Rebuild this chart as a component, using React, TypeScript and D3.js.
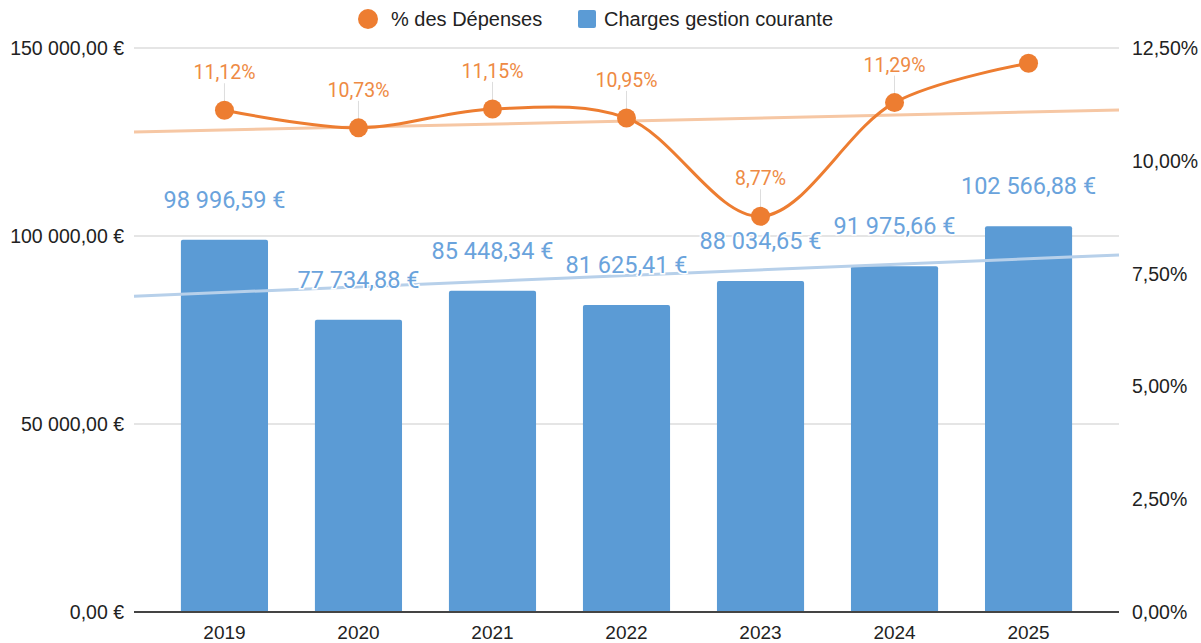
import React from "react"
import * as d3 from "d3"

const years = ["2019", "2020", "2021", "2022", "2023", "2024", "2025"]
const charges = [98996.59, 77734.88, 85448.34, 81625.41, 88034.65, 91975.66, 102566.88]
const depensesPct = [11.12, 10.73, 11.15, 10.95, 8.77, 11.29, 12.16]
// 2025 point has no label in the original
const pctLabelShown = [true, true, true, true, true, true, false]
const leftTicks = [0, 50000, 100000, 150000]
const rightTicks = [0, 2.5, 5, 7.5, 10, 12.5]

const BLUE = "#5b9bd5"
const ORANGE = "#ed7d31"
const AXIS_FONT = "'Liberation Sans', Arial, sans-serif"
const LABEL_FONT = "Roboto, 'Noto Sans', sans-serif"

const width = 1201
const height = 643
const margin = { top: 48, right: 82, bottom: 31, left: 134 }

const eur = (v: number) =>
  d3.format(",.2f")(v).replace(/,/g, " ").replace(".", ",") + " €"
const pct = (v: number) => v.toFixed(2).replace(".", ",") + "%"

// least squares fit against the category index
function fit(vals: number[]) {
  const xs = vals.map((_, i) => i)
  const mx = d3.mean(xs) as number
  const my = d3.mean(vals) as number
  let num = 0
  let den = 0
  vals.forEach((v, i) => {
    num += (i - mx) * (v - my)
    den += (i - mx) * (i - mx)
  })
  const slope = num / den
  return (i: number) => my + slope * (i - mx)
}

export default function App() {
  const x0 = margin.left
  const x1 = width - margin.right
  const yb = height - margin.bottom

  const x = d3.scaleBand().domain(years).range([x0, x1]).padding(0.35)
  const yL = d3.scaleLinear().domain([0, 150000]).range([yb, margin.top])
  const yR = d3.scaleLinear().domain([0, 12.5]).range([yb, margin.top])
  const cx = (i: number) => (x(years[i]) as number) + x.bandwidth() / 2
  // index scale to stretch trendlines over the whole plot width
  const idx = d3.scaleLinear().domain([0, years.length - 1]).range([cx(0), cx(years.length - 1)])

  const line = d3
    .line<number>()
    .x((_, i) => cx(i))
    .y((d) => yR(d))
    .curve(d3.curveCatmullRom.alpha(0.5))

  const trendBlue = fit(charges)
  const trendOrange = fit(depensesPct)
  const iStart = idx.invert(x0)
  const iEnd = idx.invert(x1)

  const bw = x.bandwidth()
  const r = 2
  const barPath = (i: number) => {
    const left = x(years[i]) as number
    const top = yL(charges[i])
    return `M${left},${yb}V${top + r}Q${left},${top} ${left + r},${top}H${left + bw - r}Q${left + bw},${top} ${left + bw},${top + r}V${yb}Z`
  }

  return (
    <svg
      width={width}
      height={height}
      style={{ position: "absolute", left: 0, top: 0, background: "#fff" }}
    >
      {/* legend */}
      <g fontFamily={AXIS_FONT} fontSize={20} fill="#222">
        <circle cx={368} cy={19} r={10} fill={ORANGE} />
        <text x={391} y={26}>% des Dépenses</text>
        <rect x={578} y={10} width={18} height={18} rx={2} fill={BLUE} />
        <text x={604} y={26}>Charges gestion courante</text>
      </g>

      {/* grid */}
      {leftTicks.slice(1).map((t) => (
        <line key={t} x1={x0} x2={x1} y1={yL(t)} y2={yL(t)} stroke="#ccc" strokeWidth={1.2} />
      ))}

      {/* left axis labels */}
      <g fontFamily={AXIS_FONT} fontSize={19.5} fill="#222" textAnchor="end">
        {leftTicks.map((t) => (
          <text key={t} x={124} y={yL(t) + 7}>
            {eur(t)}
          </text>
        ))}
      </g>
      {/* right axis labels */}
      <g fontFamily={AXIS_FONT} fontSize={19.5} fill="#222">
        {rightTicks.map((t) => (
          <text key={t} x={1132} y={yR(t) + 7}>
            {pct(t)}
          </text>
        ))}
      </g>

      {/* bars */}
      {charges.map((_, i) => (
        <path key={i} d={barPath(i)} fill={BLUE} />
      ))}

      {/* trendlines */}
      <line
        x1={x0}
        x2={x1}
        y1={yL(trendBlue(iStart))}
        y2={yL(trendBlue(iEnd))}
        stroke="#b7d0ea"
        strokeWidth={3}
      />
      <line
        x1={x0}
        x2={x1}
        y1={yR(trendOrange(iStart))}
        y2={yR(trendOrange(iEnd))}
        stroke="#f6c7a4"
        strokeWidth={3}
      />

      {/* baseline */}
      <line x1={x0} x2={x1} y1={yb} y2={yb} stroke="#444" strokeWidth={2} />

      {/* year labels */}
      <g fontFamily={AXIS_FONT} fontSize={19} fill="#222" textAnchor="middle">
        {years.map((yr, i) => (
          <text key={yr} x={cx(i)} y={639}>
            {yr}
          </text>
        ))}
      </g>

      {/* bar value labels */}
      <g
        fontFamily={LABEL_FONT}
        fontSize={23.5}
        fill="#6aa3dc"
        textAnchor="middle"
        stroke="#fff"
        strokeWidth={3}
        style={{ paintOrder: "stroke" }}
      >
        {charges.map((v, i) => (
          <text key={i} x={cx(i)} y={yL(v) - 32}>
            {eur(v)}
          </text>
        ))}
      </g>

      {/* percentage line */}
      <path d={line(depensesPct) as string} fill="none" stroke={ORANGE} strokeWidth={3} />
      {depensesPct.map((v, i) =>
        pctLabelShown[i] ? (
          <line
            key={"l" + i}
            x1={cx(i)}
            x2={cx(i)}
            y1={yR(v) - 27}
            y2={yR(v) - 8}
            stroke="#ddd"
            strokeWidth={1}
          />
        ) : null
      )}
      {depensesPct.map((v, i) => (
        <circle key={i} cx={cx(i)} cy={yR(v)} r={9.5} fill={ORANGE} />
      ))}
      <g
        fontFamily={LABEL_FONT}
        fontSize={19.5}
        fill="#ee8a44"
        textAnchor="middle"
        stroke="#fff"
        strokeWidth={3}
        style={{ paintOrder: "stroke" }}
      >
        {depensesPct.map((v, i) =>
          pctLabelShown[i] ? (
            <text key={i} x={cx(i)} y={yR(v) - 31}>
              {pct(v)}
            </text>
          ) : null
        )}
      </g>
    </svg>
  )
}
